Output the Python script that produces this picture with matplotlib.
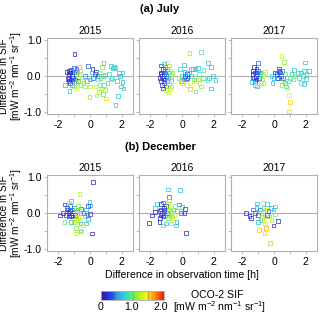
import numpy as np
import matplotlib
matplotlib.use("Agg")
from matplotlib import pyplot as plt
from matplotlib.colors import LinearSegmentedColormap, Normalize
from matplotlib.cm import ScalarMappable

plt.rcParams["font.family"] = ["Liberation Sans", "DejaVu Sans"]
plt.rcParams["mathtext.fontset"] = "custom"
plt.rcParams["mathtext.rm"] = "Liberation Sans"
plt.rcParams["mathtext.it"] = "Liberation Sans"
plt.rcParams["axes.unicode_minus"] = False

years = ["2015", "2016", "2017"]
row_titles = ["(a) July", "(b) December"]

# (time difference [h], SIF difference, OCO-2 SIF)
jul_2015 = [
    (-1.35, 0.05, 0.15), (-1.3, -0.05, 0.2), (-1.25, 0.1, 0.1), (-1.2, -0.1, 0.15),
    (-1.15, 0.0, 0.25), (-1.1, 0.05, 0.3), (-1.05, -0.05, 0.35), (-1.3, 0.15, 0.1),
    (-1.4, -0.08, 0.2), (-1.0, 0.1, 0.3), (-0.95, -0.1, 0.4), (-1.2, 0.18, 0.15),
    (-1.1, -0.15, 0.2), (-1.25, -0.2, 0.15), (-0.9, 0.05, 0.45), (-1.45, 0.12, 0.12),
    (-1.35, -0.15, 0.18), (-0.85, 0.2, 0.2), (-1.0, 0.22, 0.35), (-0.75, -0.15, 0.35),
    (-0.8, 0.1, 1.25), (-0.7, 0.05, 1.3), (-0.75, -0.05, 1.1), (-0.9, -0.2, 1.2),
    (-0.85, -0.35, 1.35), (-0.6, -0.25, 1.2), (-0.5, -0.15, 1.3), (-0.7, 0.25, 1.0),
    (-0.6, 0.15, 1.15), (-0.4, -0.2, 1.0), (-0.95, 0.15, 0.8), (-1.0, -0.3, 1.25),
    (-1.55, -0.25, 0.7), (-1.28, -0.42, 0.7), (-1.15, -0.25, 0.65), (-0.97, 0.62, 0.15),
    (-0.14, 0.29, 0.4), (0.16, 0.2, 0.2), (0.37, 0.12, 0.3), (0.47, 0.0, 0.2),
    (0.3, 0.05, 0.25), (0.2, -0.05, 0.45), (0.1, 0.1, 0.8), (0.0, -0.1, 0.6),
    (0.5, -0.1, 0.9), (0.6, 0.1, 1.1), (0.75, 0.25, 1.2), (0.85, 0.36, 0.75),
    (0.65, -0.05, 1.0), (0.8, 0.0, 0.85), (0.95, 0.02, 0.9), (-0.3, 0.0, 0.5),
    (-0.2, -0.15, 0.8), (-0.04, -0.6, 1.65), (1.0, -0.63, 1.6), (0.4, -0.55, 1.3),
    (0.55, -0.45, 1.25), (0.75, -0.35, 1.35), (0.95, -0.4, 1.2), (0.8, -0.5, 1.0),
    (0.35, -0.3, 1.35), (0.6, -0.25, 1.1), (0.9, -0.25, 0.95), (0.0, -0.3, 1.3),
    (-0.3, -0.3, 1.15), (1.3, 0.28, 0.75), (1.45, 0.22, 0.7), (1.6, 0.22, 0.75),
    (1.5, 0.25, 0.8), (1.8, 0.08, 0.7), (2.05, 0.1, 0.7), (1.9, 0.0, 0.65),
    (1.7, -0.15, 0.7), (2.05, -0.16, 0.65), (1.95, -0.3, 0.7), (2.1, -0.35, 0.7),
    (1.75, -0.56, 0.7), (1.6, -0.81, 0.75), (1.3, -0.1, 0.9), (1.2, 0.05, 0.85),
    (1.1, -0.2, 1.0), (1.4, -0.05, 0.8),
]
jul_2016 = [
    (-1.3, 0.1, 0.1), (-1.25, 0.0, 0.15), (-1.2, -0.05, 0.2), (-1.15, 0.05, 0.25),
    (-1.1, -0.1, 0.3), (-1.05, 0.1, 0.35), (-1.2, 0.2, 0.2), (-1.3, -0.15, 0.15),
    (-1.35, 0.05, 0.12), (-1.0, 0.0, 0.4), (-1.1, 0.15, 0.45), (-1.25, -0.25, 0.15),
    (-0.95, -0.15, 0.5), (-1.15, -0.2, 0.35), (-1.4, -0.05, 0.2), (-1.3, 0.3, 0.3),
    (-1.2, -0.35, 0.12), (-1.05, 0.25, 0.4), (-0.95, 0.2, 0.55), (-1.0, -0.3, 0.25),
    (-0.9, 0.1, 0.75), (-0.85, -0.05, 0.7), (-1.15, 0.35, 0.7),
    (-0.95, 0.38, 1.3), (-0.8, 0.3, 1.2), (-0.75, 0.15, 1.25), (-0.7, 0.0, 1.1),
    (-0.8, -0.2, 1.35), (-0.75, -0.35, 1.3), (-0.65, -0.3, 1.2), (-0.9, -0.3, 1.25),
    (-0.85, -0.45, 1.35), (-0.7, -0.15, 1.0), (-0.6, 0.1, 1.15), (-1.0, -0.4, 1.3),
    (-0.14, 0.19, 0.75), (0.12, 0.31, 0.8), (0.0, 0.0, 0.65), (0.1, -0.1, 0.4),
    (0.2, 0.0, 0.3), (0.3, 0.05, 0.25), (0.35, -0.05, 0.2), (0.25, -0.1, 0.45),
    (-0.05, -0.15, 0.8), (0.15, 0.12, 0.6), (-0.2, -0.05, 1.25), (0.47, 0.65, 1.65),
    (0.0, -0.2, 1.6), (0.5, -0.2, 1.5), (0.52, -0.36, 1.65), (0.3, -0.25, 1.3),
    (0.45, 0.1, 0.7), (0.6, 0.0, 0.8), (0.55, 0.2, 0.75), (0.7, 0.2, 0.7),
    (1.2, 0.68, 0.95), (1.65, 0.37, 0.7), (1.8, 0.26, 0.7), (1.36, 0.17, 0.9),
    (1.0, 0.22, 0.7), (0.85, 0.2, 0.75), (0.85, -0.44, 1.0), (1.0, -0.1, 1.3),
    (1.1, -0.2, 1.25), (1.2, -0.3, 1.2), (1.6, -0.11, 0.95), (1.8, -0.35, 0.7),
    (1.96, 0.0, 0.7), (2.1, -0.11, 0.7), (1.7, -0.05, 0.75), (1.3, -0.05, 0.85),
    (0.9, -0.15, 1.35), (1.05, 0.05, 0.9), (0.75, -0.1, 0.95),
]
jul_2017 = [
    (-1.3, 0.05, 0.15), (-1.25, -0.05, 0.2), (-1.2, 0.1, 0.1), (-1.15, 0.0, 0.25),
    (-1.1, -0.1, 0.3), (-1.05, 0.05, 0.35), (-1.3, 0.15, 0.2), (-1.2, -0.15, 0.15),
    (-1.0, 0.36, 0.45), (-1.0, 0.15, 0.4), (-0.95, -0.05, 0.35), (-1.1, 0.2, 0.25),
    (-0.9, 0.1, 0.5), (-1.25, 0.25, 0.15), (-1.35, -0.05, 0.2),
    (-1.38, -0.16, 0.7), (-1.2, -0.25, 0.75), (-1.05, -0.3, 0.7),
    (-0.56, 0.12, 1.3), (-0.7, 0.05, 1.2), (-0.8, -0.2, 1.3), (-0.95, -0.25, 1.35),
    (-0.75, -0.1, 1.1), (-0.85, 0.0, 1.0), (-0.65, -0.2, 1.25),
    (0.06, 0.1, 0.2), (0.15, 0.05, 0.25), (0.25, -0.05, 0.3), (0.35, 0.15, 0.15),
    (0.45, 0.0, 0.4), (0.55, -0.05, 0.35), (0.3, 0.21, 0.2), (0.2, -0.07, 0.45),
    (0.4, 0.1, 0.3), (0.5, 0.15, 0.5), (-0.15, 0.0, 0.8), (-0.1, -0.2, 0.7),
    (0.0, -0.05, 0.6), (0.47, 0.56, 1.35), (0.64, 0.4, 1.15), (0.7, 0.05, 1.0),
    (0.6, -0.15, 1.3), (0.5, -0.25, 1.2), (0.85, -0.35, 1.4), (0.93, -0.53, 1.45),
    (0.99, -0.74, 1.6), (0.95, -1.0, 1.6), (0.75, -0.3, 0.9), (0.7, -0.2, 0.8),
    (0.9, -0.15, 1.0), (1.0, -0.05, 0.95),
    (1.96, 0.38, 0.7), (1.26, 0.17, 0.75), (1.5, 0.08, 0.9), (1.7, 0.1, 0.7),
    (1.9, 0.15, 0.75), (2.18, 0.14, 0.7), (2.02, -0.09, 0.75), (1.9, -0.23, 0.7),
    (1.7, -0.2, 1.0), (1.35, 0.0, 1.0), (1.55, -0.05, 0.85), (1.2, -0.1, 1.05),
    (1.8, 0.0, 0.85), (1.1, 0.05, 0.8), (2.05, 0.05, 0.85),
]
dec_2015 = [
    (0.2, 0.87, 0.15), (-0.66, 0.54, 1.3), (-0.04, 0.31, 0.7), (0.0, 0.21, 0.6),
    (-0.14, 0.19, 0.25), (-0.25, 0.1, 0.65), (-0.55, 0.12, 0.4),
    (-1.9, -0.07, 0.15), (-1.7, 0.0, 0.2), (-1.6, 0.24, 0.25), (-1.18, 0.33, 0.7),
    (-1.3, 0.3, 1.2), (-1.4, 0.1, 0.15), (-1.35, 0.0, 0.1), (-1.3, -0.1, 0.2),
    (-1.25, 0.05, 0.3), (-1.2, -0.05, 0.15), (-1.15, 0.1, 0.4), (-1.1, -0.1, 0.2),
    (-1.05, 0.0, 0.35), (-1.0, 0.15, 0.45), (-0.95, -0.05, 0.25), (-1.5, -0.05, 0.2),
    (-1.45, 0.15, 0.15), (-1.25, 0.2, 0.5), (-0.9, 0.1, 1.2), (-0.85, -0.1, 1.3),
    (-0.8, 0.0, 1.25), (-0.75, -0.15, 1.35), (-0.7, 0.05, 1.15), (-0.65, -0.2, 1.3),
    (-0.9, -0.2, 1.35), (-0.6, 0.0, 1.0), (-0.75, 0.2, 1.1), (-1.0, -0.25, 1.2),
    (-1.6, -0.25, 1.0), (-1.18, -0.25, 0.7), (-0.6, -0.3, 0.7), (-0.25, -0.3, 0.7),
    (-0.14, -0.16, 0.65), (-0.45, -0.35, 1.35), (-0.56, -0.49, 1.3), (-0.87, -0.58, 1.3),
    (-0.6, -0.52, 1.0), (-0.9, -0.42, 1.1), (0.12, -0.58, 0.15), (0.0, -0.02, 0.2),
    (-0.15, -0.05, 0.4), (-0.3, -0.1, 0.8), (-0.4, 0.0, 0.5),
]
dec_2016 = [
    (-0.87, 0.66, 0.7), (-0.12, 0.64, 0.7), (-0.8, 0.45, 0.4), (-1.55, 0.26, 0.7),
    (-1.69, 0.14, 0.7), (-2.06, -0.28, 0.15), (-1.9, -0.07, 0.15), (-1.7, 0.02, 0.2),
    (-1.4, 0.05, 0.15), (-1.35, -0.05, 0.1), (-1.3, 0.1, 0.2), (-1.25, 0.0, 0.25),
    (-1.2, -0.1, 0.3), (-1.15, 0.15, 0.2), (-1.1, 0.05, 0.35), (-1.05, -0.05, 0.4),
    (-1.0, 0.2, 0.15), (-0.95, 0.0, 0.3), (-1.3, 0.25, 0.2), (-1.2, 0.3, 0.45),
    (-0.9, 0.25, 1.3), (-0.85, 0.1, 1.25), (-0.8, -0.05, 1.35), (-0.75, 0.05, 1.2),
    (-0.7, -0.1, 1.3), (-0.65, 0.0, 1.15), (-0.6, -0.15, 1.25), (-0.55, 0.1, 1.0),
    (-0.9, -0.15, 1.1), (-0.8, 0.35, 1.2), (-0.5, -0.05, 1.35),
    (-0.2, 0.24, 0.45), (0.0, 0.17, 0.7), (0.2, 0.12, 0.2), (-0.1, 0.0, 0.4),
    (0.15, 0.0, 0.15), (-0.3, 0.05, 0.8), (-0.35, -0.25, 0.7), (-0.39, -0.35, 0.7),
    (-1.18, -0.35, 1.0), (-1.42, -0.25, 0.15), (-1.38, -0.15, 0.2), (0.27, -0.56, 0.15),
    (-0.7, -0.3, 1.3), (-1.0, -0.3, 0.7), (-0.45, 0.2, 1.1),
]
dec_2017 = [
    (-1.08, 0.27, 0.7), (-0.71, 0.29, 1.3), (-0.42, 0.25, 0.7), (0.06, 0.18, 0.8),
    (-1.75, 0.0, 0.15), (-1.54, -0.09, 0.15), (-1.45, -0.15, 0.2),
    (-1.3, 0.1, 0.4), (-1.2, 0.0, 0.35), (-1.1, 0.15, 0.7), (-1.0, -0.05, 0.3),
    (-0.9, 0.1, 0.5), (-0.8, 0.0, 1.2), (-0.7, 0.05, 1.3), (-0.6, -0.1, 1.25),
    (-0.5, 0.1, 1.35), (-0.45, -0.05, 0.2), (-0.35, 0.05, 0.4), (-0.3, -0.1, 1.0),
    (-0.75, -0.15, 1.35), (-0.85, -0.2, 1.0), (-1.0, -0.25, 0.7), (-0.65, 0.15, 0.9),
    (-0.94, -0.48, 1.65), (-0.6, -0.57, 1.6), (-0.5, -0.42, 1.7), (-0.25, -0.85, 1.15),
    (-0.04, -0.35, 0.2), (0.27, -0.23, 0.2), (-0.04, 0.1, 0.7), (0.06, -0.04, 1.0),
    (-0.15, -0.2, 1.3), (-0.55, -0.3, 1.35), (-0.2, 0.15, 0.6),
]
panels = [[jul_2015, jul_2016, jul_2017], [dec_2015, dec_2016, dec_2017]]

cb_ticks = [0, 1.0, 2.0]
cb_ticklabels = ["0", "1.0", "2.0"]

cmap = LinearSegmentedColormap.from_list(
    "sif", ["#3a10a0", "#2040e0", "#20b0f0", "#40e0b0", "#90f030",
            "#f8f800", "#f89010", "#f01010"])
norm = Normalize(vmin=0, vmax=2.1)

W, H = 320, 316
fig = plt.figure(figsize=(W / 100, H / 100), dpi=100)

lefts = [47, 139, 231]
tops = [38, 175]
aw, ah = 86, 76
gray = "#b0b0b0"
fs = 7.6

for r in range(2):
    for c in range(3):
        ax = fig.add_axes([lefts[c] / W, 1 - (tops[r] + ah) / H, aw / W, ah / H])
        x, y, v = np.array(panels[r][c]).T
        ax.axhline(0, color=gray, lw=0.8, zorder=0)
        ax.scatter(x, y, marker="s", s=7, facecolors="none",
                   edgecolors=cmap(norm(v)), linewidths=0.6, alpha=0.85)
        ax.set_xlim(-2.7, 2.7)
        ax.set_ylim(-1.07, 1.07)
        ax.set_xticks([-2, 0, 2])
        ax.set_xticks([-1, 1], minor=True)
        ax.set_yticks([-1.0, 0.0, 1.0])
        ax.set_yticks([-0.5, 0.5], minor=True)
        if c == 0:
            ax.set_yticklabels(["-1.0", "0.0", "1.0"])
        else:
            ax.set_yticklabels([])
        ax.tick_params(which="both", direction="out", length=2.5, width=0.6,
                       color=gray, labelsize=fs, pad=1.5)
        for sp in ax.spines.values():
            sp.set_color(gray)
            sp.set_linewidth(0.8)
        ax.set_title(years[c], fontsize=fs, pad=3)
    fig.text(0.5, 1 - (9 if r == 0 else 147) / H, row_titles[r],
             ha="center", va="center", fontsize=8, fontweight="bold")
    fig.text(11.5 / W, 1 - (tops[r] + ah / 2) / H,
             "Difference in SIF\n[mW m$^{-2}$ nm$^{-1}$ sr$^{-1}$]",
             rotation=90, ha="center", va="center", fontsize=7.3, linespacing=0.95)

fig.text(182 / W, 1 - 275 / H, "Difference in observation time [h]",
         ha="center", va="center", fontsize=fs)

cax = fig.add_axes([101 / W, 1 - 300 / H, 63 / W, 9 / H])
cb = fig.colorbar(ScalarMappable(norm=norm, cmap=cmap), cax=cax, orientation="horizontal")
cb.set_ticks(cb_ticks)
cb.set_ticklabels(cb_ticklabels)
cb.outline.set_color(gray)
cb.outline.set_linewidth(0.6)
for t in [0.5, 1.05, 1.55]:
    cax.axvline(t, color="#909090", lw=0.5)
cax.tick_params(length=0, labelsize=fs, pad=1.5)

fig.text(217 / W, 1 - 295 / H, "OCO-2 SIF", ha="center", va="center", fontsize=fs)
fig.text(219 / W, 1 - 307 / H, "[mW m$^{-2}$ nm$^{-1}$ sr$^{-1}$]",
         ha="center", va="center", fontsize=fs)

fig.savefig("out.png", dpi=100)
